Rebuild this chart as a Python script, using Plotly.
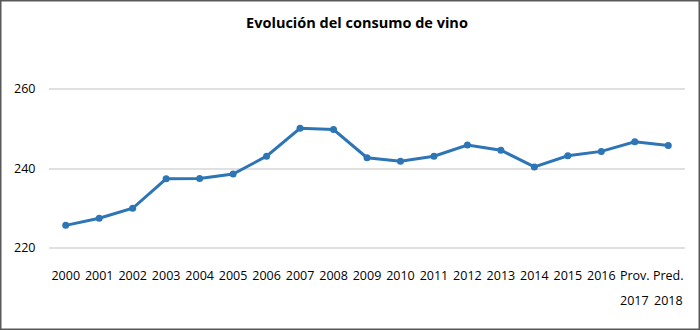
import plotly.graph_objects as go

categories = ["2000", "2001", "2002", "2003", "2004", "2005", "2006", "2007", "2008",
              "2009", "2010", "2011", "2012", "2013", "2014", "2015", "2016",
              "Prov. 2017", "Pred. 2018"]
tick_line1 = ["2000", "2001", "2002", "2003", "2004", "2005", "2006", "2007", "2008",
              "2009", "2010", "2011", "2012", "2013", "2014", "2015", "2016",
              "Prov.", "Pred."]
tick_line2 = ["", "", "", "", "", "", "", "", "", "", "", "", "", "", "", "", "",
              "2017", "2018"]
consumo = [225.7, 227.5, 230.0, 237.4, 237.5, 238.6, 243.1, 250.1, 249.8,
           242.7, 241.8, 243.1, 245.9, 244.6, 240.4, 243.2, 244.3, 246.7, 245.8]
y_ticks = [220, 240, 260]
title = "Evolución del consumo de vino"

W, H = 700, 330
L, R, T, B = 49, 15, 87, 80
pw, ph = W - L - R, H - T - B

FONT = "Open Sans"
blue = "#2E75B6"

fig = go.Figure()
fig.add_trace(go.Scatter(
    x=categories, y=consumo, mode="lines+markers",
    line=dict(color=blue, width=3),
    marker=dict(color=blue, size=7),
    showlegend=False, hoverinfo="x+y",
))

annotations = []
for c, t in zip(categories, tick_line2):
    if t:
        annotations.append(dict(
            x=c, xref="x", y=-50 / ph, yref="paper", text=t, showarrow=False,
            font=dict(family=FONT, size=12.5, color="#000000"),
            xanchor="center", yanchor="middle",
        ))

fig.update_layout(
    width=W, height=H,
    margin=dict(l=L, r=R, t=T, b=B, autoexpand=False),
    paper_bgcolor="white", plot_bgcolor="white",
    title=dict(text="<b>" + title + "</b>", x=357 / W, xanchor="center",
               y=1 - 23 / H, yanchor="middle",
               font=dict(family=FONT, size=14.5, color="#000000")),
    font=dict(family=FONT, size=12.5, color="#000000"),
    xaxis=dict(
        type="category", tickmode="array", tickvals=categories, ticktext=tick_line1,
        showgrid=False, showline=False, zeroline=False, automargin=False,
        ticks="outside", ticklen=14, tickcolor="rgba(0,0,0,0)",
        tickfont=dict(family=FONT, size=12.5, color="#000000"),
        range=[-0.5, len(categories) - 0.5],
    ),
    yaxis=dict(
        range=[219.5, 260.5], tickvals=y_ticks, showgrid=True, gridcolor="#E0E0E0",
        gridwidth=2, zeroline=False, showline=False, automargin=False,
        ticks="outside", ticklen=10, tickcolor="rgba(0,0,0,0)",
        tickfont=dict(family=FONT, size=12.5, color="#000000"),
    ),
    annotations=annotations,
    shapes=[dict(
        type="rect", xref="paper", yref="paper",
        x0=-L / pw, x1=1 + R / pw,
        y0=-B / ph, y1=1 + T / ph,
        line=dict(color="#595959", width=3), fillcolor="rgba(0,0,0,0)",
        layer="below",
    )],
)

fig.write_html("out.html", config={"displayModeBar": False},
               post_script="document.body.style.margin='0px';document.body.style.padding='0px';")
